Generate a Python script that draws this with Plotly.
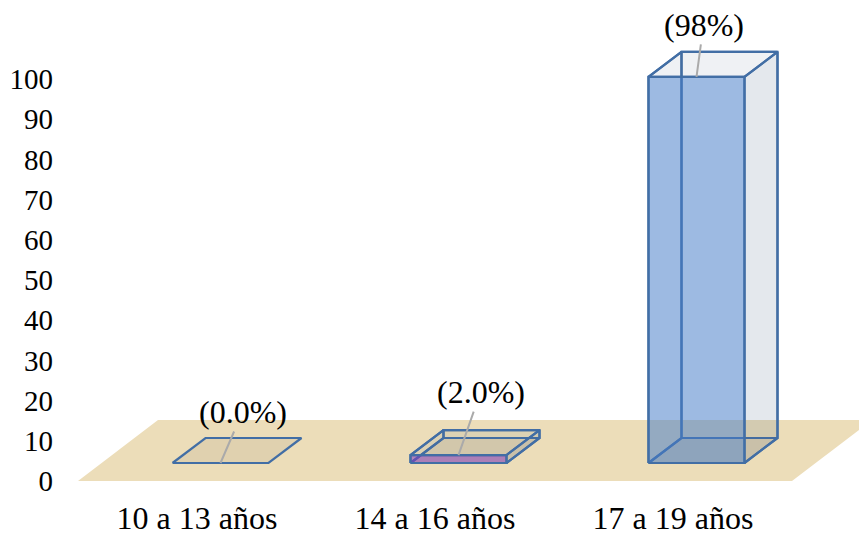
import plotly.graph_objects as go

# Chart data
categories = ["10 a 13 años", "14 a 16 años", "17 a 19 años"]
values = [0, 2, 98]
value_labels = ["(0.0%)", "(2.0%)", "(98%)"]
y_ticks = [0, 10, 20, 30, 40, 50, 60, 70, 80, 90, 100]

# Canvas and scales
WIDTH, HEIGHT = 859, 536
LEFT, BOTTOM = 60, 40
PLOT_H = HEIGHT - BOTTOM
CAT_PX = 238.0
CAT0_PX = 197.0
UNIT_PX = 4.02
BAR_UNIT_PX = 3.94
FLOOR_BASE_PX = 481.0
BAR_BASE_PX = 463.0

x_range = [(LEFT - CAT0_PX) / CAT_PX, (WIDTH - CAT0_PX) / CAT_PX]
y_range = [(FLOOR_BASE_PX - PLOT_H) / UNIT_PX, FLOOR_BASE_PX / UNIT_PX]
y2_range = [(BAR_BASE_PX - PLOT_H) / BAR_UNIT_PX, BAR_BASE_PX / BAR_UNIT_PX]

# Oblique projection of the pseudo-3D boxes
FLOOR_DX = 80 / CAT_PX
FLOOR_DY = 61 / UNIT_PX
BAR_DX = 33 / CAT_PX
BAR_DY = 25 / BAR_UNIT_PX
BAR_LEFT = -24.5 / CAT_PX
BAR_WIDTH = 96 / CAT_PX

FLOOR_COLOR = "rgb(236,221,185)"
EDGE = "rgb(66,110,165)"
SIDE_FILL = "rgba(75,100,135,0.15)"
TOP_FILL = "rgba(75,100,135,0.09)"
BOTTOM_FILL = "rgba(120,110,90,0.10)"
FRONT_FILLS = ["rgba(70,125,200,0.53)", "rgba(130,60,190,0.55)", "rgba(70,125,200,0.53)"]
LEADER = "rgb(170,170,170)"
FONT = "Liberation Serif"
TEXT_SIZE = 32
TICK_SIZE = 29

# Pixel offsets from each bar's top edge to its label
LABEL_OFFSETS = [(22, -51), (22, -63), (7, -52)]

fig = go.Figure()


def face(xs, ys, fill, yaxis="y2", line=True):
    fig.add_trace(go.Scatter(
        x=xs + xs[:1], y=ys + ys[:1], mode="lines", fill="toself", fillcolor=fill,
        line=dict(color=EDGE, width=2.2) if line else dict(width=0),
        yaxis=yaxis, hoverinfo="skip", showlegend=False,
    ))


# Floor plane
face([-0.5, 2.5, 2.5 + FLOOR_DX, -0.5 + FLOOR_DX], [0, 0, FLOOR_DY, FLOOR_DY],
     FLOOR_COLOR, yaxis="y", line=False)

# Boxes, painted from the rear faces to the front
for i, v in enumerate(values):
    x0 = i + BAR_LEFT
    x1 = x0 + BAR_WIDTH
    xb0, xb1 = x0 + BAR_DX, x1 + BAR_DX
    face([x0, x1, xb1, xb0], [0, 0, BAR_DY, BAR_DY], BOTTOM_FILL)
    if v > 0:
        face([xb0, xb1, xb1, xb0], [BAR_DY, BAR_DY, v + BAR_DY, v + BAR_DY], "rgba(255,255,255,0)")
        face([x0, xb0, xb0, x0], [0, BAR_DY, v + BAR_DY, v], "rgba(255,255,255,0)")
        face([x1, xb1, xb1, x1], [0, BAR_DY, v + BAR_DY, v], SIDE_FILL)
        face([x0, x1, xb1, xb0], [v, v, v + BAR_DY, v + BAR_DY], TOP_FILL)
        face([x0, x1, x1, x0], [0, 0, v, v], FRONT_FILLS[i])

# Value labels with leader lines
for i, (v, text) in enumerate(zip(values, value_labels)):
    ax, ay = LABEL_OFFSETS[i]
    fig.add_annotation(
        x=i + BAR_LEFT + BAR_WIDTH / 2, y=v, xref="x", yref="y2",
        text=text, showarrow=True, arrowhead=0, arrowwidth=2, arrowcolor=LEADER,
        ax=ax, ay=ay, axref="pixel", ayref="pixel",
        font=dict(family=FONT, size=TEXT_SIZE, color="black"),
    )

fig.update_layout(
    width=WIDTH, height=HEIGHT,
    margin=dict(l=LEFT, r=0, t=0, b=BOTTOM),
    paper_bgcolor="white", plot_bgcolor="white",
    showlegend=False,
    xaxis=dict(
        range=x_range, tickmode="array", tickvals=list(range(len(categories))),
        ticktext=categories, showgrid=False, zeroline=False, showline=False,
        ticks="", automargin=False,
        tickfont=dict(family=FONT, size=TEXT_SIZE, color="black"),
    ),
    yaxis=dict(
        range=y_range, tickmode="array", tickvals=y_ticks, showgrid=False,
        zeroline=False, showline=False, ticks="", ticklabelstandoff=6, automargin=False,
        tickfont=dict(family=FONT, size=TICK_SIZE, color="black"),
    ),
    yaxis2=dict(range=y2_range, overlaying="y", visible=False),
)

fig.write_html("out.html", config=dict(displayModeBar=False))
